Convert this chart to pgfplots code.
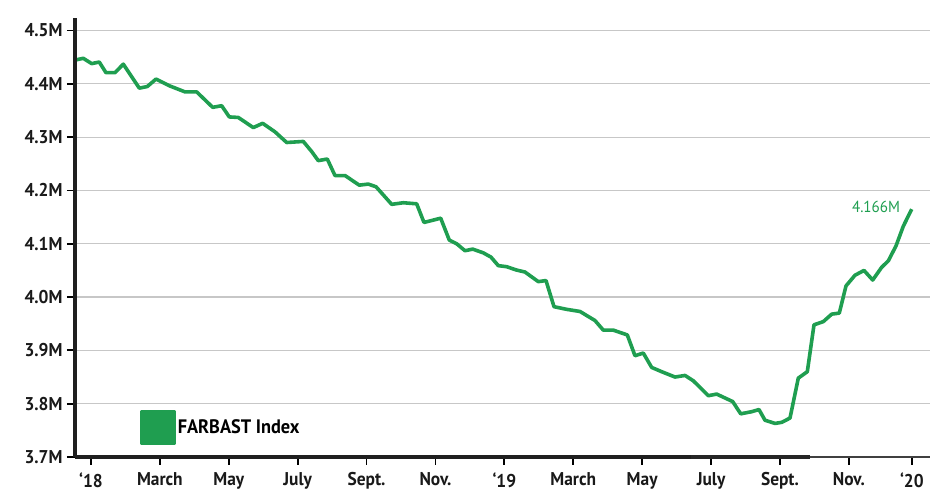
\documentclass[border=0pt]{standalone}
\usepackage{fontspec}
\setmainfont{PT Sans}[FakeStretch=0.94]
\usepackage{pgfplots}
\pgfplotsset{compat=1.18}
\definecolor{farbast}{RGB}{31,158,80}
\begin{document}
\begin{tikzpicture}
\useasboundingbox (-75pt,-40pt) rectangle (855pt,457pt);
\begin{axis}[
  scale only axis,
  width=855pt, height=439pt,
  xmin=-0.464, xmax=24.356,
  ymin=3.7, ymax=4.5236,
  axis x line*=bottom, axis y line*=left,
  axis line style={black, line width=2pt},
  xtick={0,2,4,6,8,10,12,14,16,18,20,22,23.83},
  xticklabels={‘18,March,May,July,Sept.,Nov.,‘19,March,May,July,Sept.,Nov.,‘20},
  ytick={3.7,3.8,3.9,4.0,4.1,4.2,4.3,4.4,4.5},
  yticklabels={3.7M,3.8M,3.9M,4.0M,4.1M,4.2M,4.3M,4.4M,4.5M},
  tick align=outside,
  major tick length=8pt,
  tick style={black, line width=1.8pt},
  ymajorgrids,
  major grid style={black!22, line width=1.2pt},
  ticklabel style={font=\fontsize{18.5}{20}\selectfont\bfseries, text=black!90},
  xticklabel style={yshift=-4pt},
  yticklabel style={xshift=-1pt},
  legend style={at={(axis description cs:0.076,0.026)}, anchor=south west,
    draw=none, fill=none, inner sep=0pt,
    font=\fontsize{19.5}{21}\selectfont\bfseries},
  legend cell align=left,
  legend image code/.code={\fill[farbast] (0pt,-16pt) rectangle (32pt,16pt);},
  clip=false,
]
\addplot[farbast, line width=3.6pt, line join=round] coordinates {
(-0.435,4.445) (-0.224,4.448) (0.020,4.438) (0.241,4.441) (0.435,4.421) (0.697,4.421)
(0.938,4.437) (1.402,4.392) (1.634,4.395) (1.887,4.409) (2.293,4.396) (2.729,4.385)
(3.068,4.385) (3.533,4.356) (3.794,4.359) (4.015,4.338) (4.276,4.337) (4.712,4.318)
(4.984,4.326) (5.342,4.310) (5.681,4.290) (6.163,4.292) (6.407,4.273) (6.598,4.256)
(6.860,4.259) (7.083,4.228) (7.374,4.228) (7.789,4.210) (8.050,4.212) (8.274,4.207)
(8.729,4.174) (9.066,4.177) (9.455,4.175) (9.667,4.140) (10.152,4.148) (10.401,4.107)
(10.616,4.100) (10.857,4.087) (11.081,4.090) (11.389,4.083) (11.612,4.075) (11.824,4.059)
(12.068,4.057) (12.338,4.051) (12.599,4.047) (12.985,4.029) (13.209,4.031) (13.441,3.982)
(13.810,3.977) (14.196,3.973) (14.631,3.956) (14.872,3.938) (15.162,3.938) (15.569,3.929)
(15.792,3.890) (16.033,3.895) (16.277,3.868) (16.568,3.860) (16.954,3.850) (17.244,3.853)
(17.485,3.843) (17.920,3.815) (18.164,3.818) (18.628,3.804) (18.861,3.781) (19.180,3.785)
(19.392,3.789) (19.566,3.769) (19.857,3.763) (20.051,3.765) (20.292,3.773) (20.533,3.848)
(20.794,3.860) (20.989,3.948) (21.259,3.954) (21.503,3.968) (21.723,3.970) (21.918,4.021)
(22.179,4.041) (22.440,4.050) (22.693,4.032) (22.954,4.056) (23.146,4.068) (23.369,4.096)
(23.581,4.133) (23.825,4.165)
};
\addlegendentry{FARBAST Index}
\node[anchor=east, text=farbast, font=\fontsize{16}{18}\selectfont, inner sep=0pt]
  at (axis cs:23.49,4.170) {4.166M};
% heavier axis lines
\draw[black!88, line width=4.6pt] (rel axis cs:0,0) -- (rel axis cs:0.72,0);
\draw[black!85, line width=3.4pt] (rel axis cs:0.72,0) -- (rel axis cs:0.86,0);
\draw[black!75, line width=2pt] (rel axis cs:0.86,0) -- (rel axis cs:1,0);
\draw[black!88, line width=3.6pt] (rel axis cs:0,0) -- (rel axis cs:0,1);
\end{axis}
\end{tikzpicture}
\end{document}
